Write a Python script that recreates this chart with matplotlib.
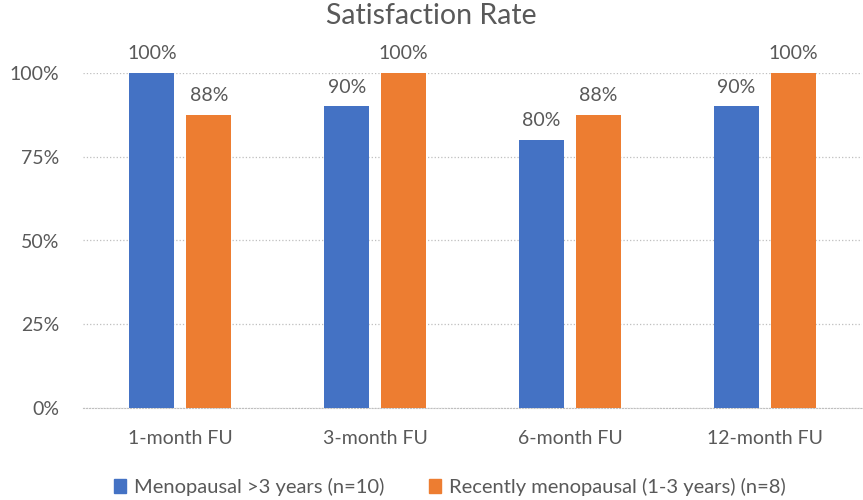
import numpy as np
import matplotlib.pyplot as plt
from matplotlib.patches import Patch

plt.rcParams['font.family'] = ['Lato', 'DejaVu Sans']

categories = ['1-month FU', '3-month FU', '6-month FU', '12-month FU']
menopausal = [100, 90, 80, 90]
recent = [87.5, 100, 87.5, 100]
series_names = ['Menopausal >3 years (n=10)', 'Recently menopausal (1-3 years) (n=8)']

blue = '#4472C4'
orange = '#ED7D31'
txt = '#595959'

fig = plt.figure(figsize=(8.63, 5.0), dpi=100)
ax = fig.add_axes([0.096, 0.184, 0.903, 0.67])

x = np.arange(len(categories))
w = 0.232
off = 0.146
b1 = ax.bar(x - off, menopausal, w, color=blue, zorder=3)
b2 = ax.bar(x + off, recent, w, color=orange, zorder=3)

for bars, vals in [(b1, menopausal), (b2, recent)]:
    for b, v in zip(bars, vals):
        ax.text(b.get_x() + b.get_width() / 2, v + 3.2, '{:.0f}%'.format(round(v + 0.01)),
                ha='center', va='bottom', fontsize=14, color=txt)

ax.set_xlim(-0.5, 3.5)
ax.set_ylim(0, 100)
ax.set_yticks([0, 25, 50, 75, 100])
ax.set_yticklabels(['0%', '25%', '50%', '75%', '100%'])
ax.set_xticks(x)
ax.set_xticklabels(categories)
ax.tick_params(axis='both', length=0, labelsize=14, colors=txt)
ax.tick_params(axis='x', pad=16)
ax.tick_params(axis='y', pad=17)
ax.grid(axis='y', linestyle=':', color='#BFBFBF', linewidth=0.9, zorder=0)
for s in ['top', 'right', 'left']:
    ax.spines[s].set_visible(False)
ax.spines['bottom'].set_color('#BFBFBF')
ax.spines['bottom'].set_linestyle(':')

fig.text(0.5, 0.968, 'Satisfaction Rate', ha='center', va='center', fontsize=20.5, color=txt)

handles = [Patch(color=blue), Patch(color=orange)]
fig.legend(handles, series_names, loc='center', bbox_to_anchor=(0.521, 0.026), ncol=2,
           frameon=False, fontsize=14.5, labelcolor=txt, handlelength=0.6, handleheight=0.7,
           handletextpad=0.4, columnspacing=2.2)

fig.savefig('out.png', dpi=100)
